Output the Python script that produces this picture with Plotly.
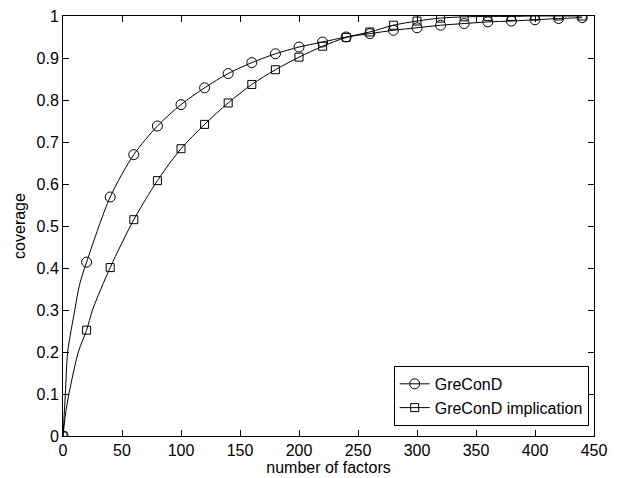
import plotly.graph_objects as go

# ---- data ----
factors = [0, 20, 40, 60, 80, 100, 120, 140, 160, 180, 200, 220, 240, 260, 280, 300,
           320, 340, 360, 380, 400, 420, 440]
grecond = [0.0, 0.414, 0.569, 0.670, 0.738, 0.789, 0.829, 0.863, 0.889, 0.910, 0.926,
           0.938, 0.950, 0.958, 0.966, 0.972, 0.978, 0.982, 0.986, 0.988, 0.991, 0.994, 0.996]
implication = [0.0, 0.252, 0.401, 0.515, 0.608, 0.684, 0.742, 0.793, 0.837, 0.872, 0.902,
               0.928, 0.949, 0.962, 0.978, 0.988, 0.995, 0.998, 0.999, 0.999, 1.0, 1.0, 1.0]

grecond_curve_x = [2, 4, 10, 14]
grecond_curve_y = [0.10, 0.20, 0.30, 0.36]
implication_curve_x = [2, 5, 13, 25]
implication_curve_y = [0.05, 0.10, 0.20, 0.30]

x_ticks = [0, 50, 100, 150, 200, 250, 300, 350, 400, 450]
y_ticks = [0, 0.1, 0.2, 0.3, 0.4, 0.5, 0.6, 0.7, 0.8, 0.9, 1]

FONT = "Liberation Sans, Arial, Helvetica, sans-serif"


def merged(xm, ym, xc, yc):
    pts = sorted(zip(list(xm) + list(xc), list(ym) + list(yc)))
    return [p[0] for p in pts], [p[1] for p in pts]


fig = go.Figure()

series = [
    ("GreConD", grecond, grecond_curve_x, grecond_curve_y, "circle-open", 10),
    ("GreConD implication", implication, implication_curve_x, implication_curve_y, "square-open", 8),
]

for name, ys, cx, cy, sym, size in series:
    lx, ly = merged(factors, ys, cx, cy)
    fig.add_trace(go.Scatter(x=lx, y=ly, mode="lines", line=dict(color="black", width=1, shape="spline", smoothing=0.8),
                             showlegend=False, hoverinfo="skip"))
    fig.add_trace(go.Scatter(x=factors, y=ys, mode="markers",
                             marker=dict(symbol=sym, size=size, color="black", line=dict(color="black", width=1)),
                             showlegend=False))

for name, ys, cx, cy, sym, size in series:
    fig.add_trace(go.Scatter(x=[None], y=[None], mode="lines+markers", name=name,
                             line=dict(color="black", width=1),
                             marker=dict(symbol=sym, size=size, color="black", line=dict(color="black", width=1))))

axis_common = dict(showline=True, linecolor="black", linewidth=1, mirror="ticks", ticks="inside",
                   ticklen=6, tickcolor="black", showgrid=False, zeroline=False, automargin=False,
                   tickfont=dict(family=FONT, size=16, color="black"))

fig.update_layout(
    width=619, height=478,
    margin=dict(l=63, r=25, t=16, b=42),
    paper_bgcolor="white", plot_bgcolor="white",
    font=dict(family=FONT, size=16, color="black"),
    xaxis=dict(range=[0, 450], tickvals=x_ticks, ticktext=[str(v) for v in x_ticks],
               title=dict(text="number of factors", font=dict(family=FONT, size=16), standoff=2),
               **axis_common),
    yaxis=dict(range=[0, 1], tickvals=y_ticks, ticktext=[("%g" % v) for v in y_ticks],
               title=dict(text="coverage", font=dict(family=FONT, size=16), standoff=6),
               **axis_common),
    legend=dict(x=0.99, y=0.024, xanchor="right", yanchor="bottom", bgcolor="white",
                bordercolor="black", borderwidth=1, font=dict(family=FONT, size=16),
                tracegroupgap=0),
    showlegend=True,
)

fig.write_html("out.html", config={"displayModeBar": False},
               post_script="document.body.style.margin='0';document.body.style.padding='0';")
